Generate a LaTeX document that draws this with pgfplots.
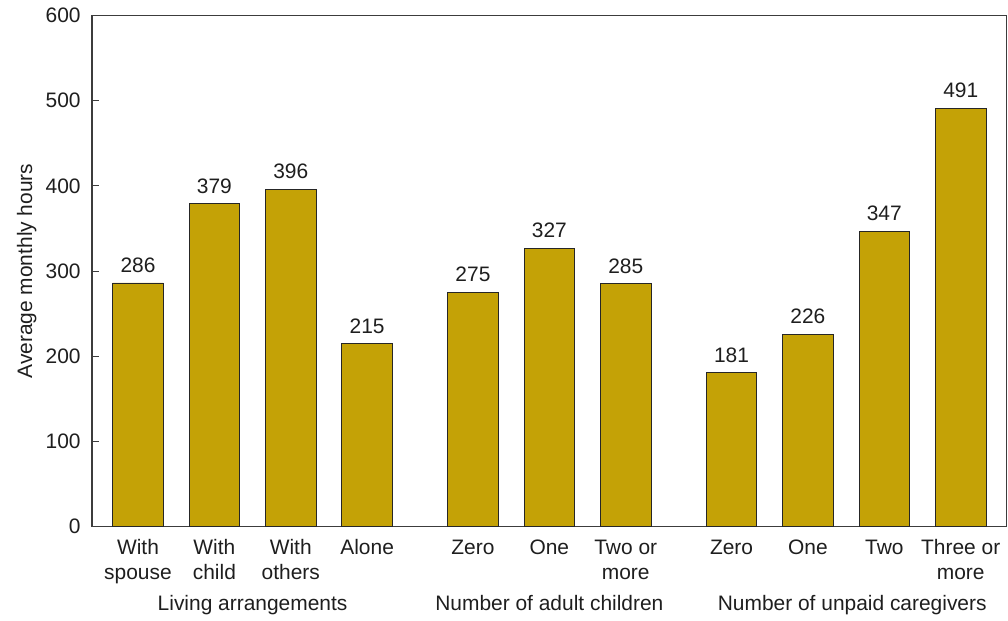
\documentclass[border=0pt]{standalone}
\usepackage{fontspec}
\setmainfont{Liberation Sans}
\usepackage{pgfplots}
\pgfplotsset{compat=1.18}
\definecolor{bargold}{RGB}{196,162,6}
\definecolor{axisgray}{RGB}{60,60,60}
\definecolor{txt}{RGB}{30,30,30}
\begin{document}
\begin{tikzpicture}[font=\fontsize{15.7}{18.75}\selectfont, text=txt]
\begin{axis}[
 name=ax,
 scale only axis,
 width=685.9pt, height=383.4pt,
 xmin=-0.602, xmax=11.37,
 ymin=0, ymax=600,
 ytick={0,100,...,600},
 xtick={0,1,2,3,4.385,5.385,6.385,7.77,8.77,9.77,10.77},
 xticklabels={With\\spouse, With\\child, With\\others, Alone, Zero, One, Two or\\more, Zero, One, Two, Three or\\more},
 xticklabel style={align=center, yshift=-1pt},
 x tick style={draw=none},
 ytick pos=left,
 tick align=inside,
 major tick length=5.3pt,
 y tick style={axisgray, line width=0.8pt},
 axis line style={axisgray, line width=0.8pt},
 yticklabel style={xshift=-5pt},
 /pgf/number format/assume math mode=true,
 ybar, bar width=0.663,
 nodes near coords,
 every node near coord/.append style={yshift=4pt},
 ylabel={Average monthly hours},
 every axis y label/.style={at={(axis description cs:-0.0656,0.5)}, rotate=90, anchor=base},
 clip=false,
]
\addplot[fill=bargold, draw=black!85, line width=0.7pt] coordinates {
 (0,286) (1,379) (2,396) (3,215)
 (4.385,275) (5.385,327) (6.385,285)
 (7.77,181) (8.77,226) (9.77,347) (10.77,491)
};
\node[anchor=base, yshift=-63pt] at (axis cs:1.5,0) {Living arrangements};
\node[anchor=base, yshift=-63pt] at (axis cs:5.385,0) {Number of adult children};
\node[anchor=base, yshift=-63pt] at (axis cs:9.35,0) {Number of unpaid caregivers};
\end{axis}
\pgfresetboundingbox
\path[use as bounding box] ([xshift=-69pt,yshift=-70pt]ax.south west) rectangle ([xshift=1.1pt,yshift=11.6pt]ax.north east);
\end{tikzpicture}
\end{document}
